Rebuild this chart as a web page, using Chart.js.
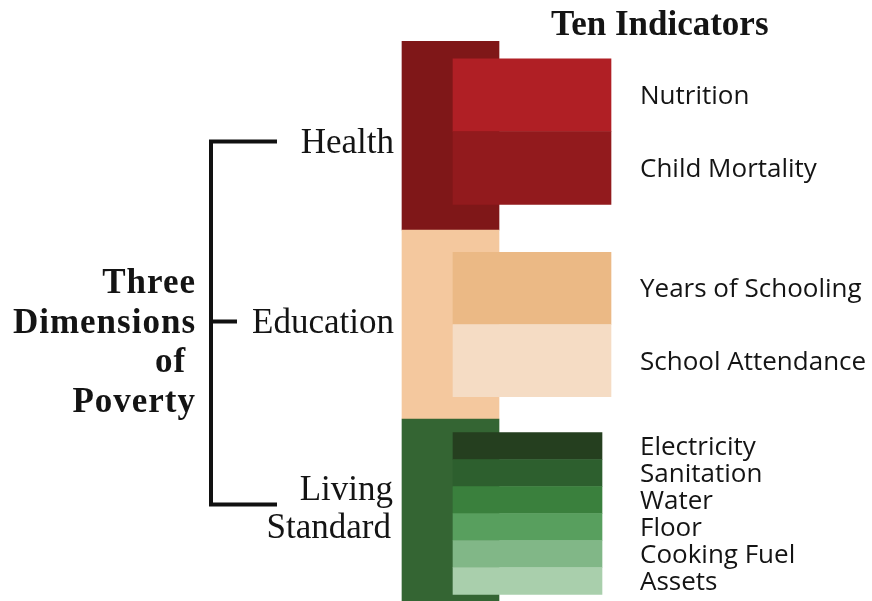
<!DOCTYPE html>
<html>
<head>
<meta charset="utf-8">
<script src="https://cdn.jsdelivr.net/npm/chart.js@4.4.1/dist/chart.umd.min.js"></script>
<style>
  html, body { margin: 0; padding: 0; background: #fff; }
  #wrap { width: 872px; height: 601px; }
</style>
</head>
<body>
<div id="wrap"><canvas id="mpiChart" width="872" height="601"></canvas></div>
<script>
// MPI: three dimensions, ten weighted indicators
const dimensions = ['Health', 'Education', 'Living Standard'];
const dimensionWeights = [1 / 3, 1 / 3, 1 / 3];
const dimensionColors = ['#7f1718', '#f4c89e', '#346533'];

const indicators = ['Nutrition', 'Child Mortality', 'Years of Schooling', 'School Attendance',
  'Electricity', 'Sanitation', 'Water', 'Floor', 'Cooking Fuel', 'Assets'];
const indicatorDimension = [0, 0, 1, 1, 2, 2, 2, 2, 2, 2];
const indicatorWeights = [1 / 6, 1 / 6, 1 / 6, 1 / 6, 1 / 18, 1 / 18, 1 / 18, 1 / 18, 1 / 18, 1 / 18];
const indicatorColors = ['#b01f25', '#921a1d', '#ebb985', '#f5dcc4',
  '#253f1f', '#2d5f2e', '#3a803d', '#589f5e', '#81b787', '#a9cfac'];

const sideTitle = ['Three', 'Dimensions', 'of ', 'Poverty'];
const topTitle = 'Ten Indicators';

// share of a dimension band that its indicator stack fills, and a small nudge
const bandFill = [0.77, 0.765, 0.857];
const bandShift = [-0.007, 0, 0];
const dimLabelShift = [6, -3, -6];

// cumulative ranges
const dimStart = [];
let acc = 0;
dimensionWeights.forEach(w => { dimStart.push(acc); acc += w; });

const indRange = [];
const used = [0, 0, 0];
indicators.forEach((name, i) => {
  const d = indicatorDimension[i];
  const f = bandFill[d];
  const s = dimStart[d] + dimensionWeights[d] * (1 - f) / 2 + bandShift[d] + used[d] * f;
  used[d] += indicatorWeights[i];
  indRange.push([s, s + indicatorWeights[i] * f]);
});

const heIdx = indicators.map((n, i) => i).filter(i => indicatorDimension[i] < 2);
const lsIdx = indicators.map((n, i) => i).filter(i => indicatorDimension[i] === 2);

const labelPlugin = {
  id: 'mpiLabels',
  afterDatasetsDraw(chart) {
    const ctx = chart.ctx;
    const y = chart.scales.y;
    ctx.save();
    ctx.fillStyle = '#141414';
    ctx.textBaseline = 'alphabetic';

    ctx.font = 'bold 35px "Liberation Serif"';
    ctx.textAlign = 'left';
    ctx.fillText(topTitle, 551, 35);

    ctx.font = '26px "Open Sans"';
    indicators.forEach((name, i) => {
      const mid = y.getPixelForValue((indRange[i][0] + indRange[i][1]) / 2);
      ctx.fillText(name, 640, mid + 9);
    });

    // dimension names, right aligned against the bars
    ctx.font = '35px "Liberation Serif"';
    ctx.textAlign = 'right';
    const tickY = [];
    dimensions.forEach((name, d) => {
      const mid = y.getPixelForValue(dimStart[d] + dimensionWeights[d] / 2) + dimLabelShift[d];
      const words = name.split(' ');
      if (words.length > 1) {
        ctx.fillText(words[0], 393, mid - 19 + 11);
        ctx.fillText(words[1], 391, mid + 19 + 11);
        tickY.push(mid - 3);
      } else {
        ctx.fillText(name, 394, mid + 11);
        tickY.push(mid);
      }
    });

    // bracket
    ctx.strokeStyle = '#111';
    ctx.lineWidth = 4;
    ctx.beginPath();
    ctx.moveTo(277, tickY[0]);
    ctx.lineTo(211, tickY[0]);
    ctx.lineTo(211, tickY[2]);
    ctx.lineTo(277, tickY[2]);
    ctx.moveTo(211, tickY[1]);
    ctx.lineTo(237, tickY[1]);
    ctx.stroke();

    ctx.font = 'bold 35px "Liberation Serif"';
    ctx.letterSpacing = '1px';
    sideTitle.forEach((line, k) => {
      ctx.fillText(line, 196, tickY[1] + 11 + (k - 1) * 39.5);
    });
    ctx.restore();
  }
};

const ctx = document.getElementById('mpiChart').getContext('2d');
new Chart(ctx, {
  type: 'bar',
  data: {
    datasets: [{
      label: 'Dimensions',
      data: dimensions.map((d, i) => ({ x: 450.5, y: [dimStart[i], dimStart[i] + dimensionWeights[i]] })),
      backgroundColor: dimensionColors,
      barThickness: 97,
      grouped: false,
      order: 2
    }, {
      label: 'Health & Education indicators',
      data: heIdx.map(i => ({ x: 532, y: indRange[i] })),
      backgroundColor: heIdx.map(i => indicatorColors[i]),
      barThickness: 158,
      grouped: false,
      order: 1
    }, {
      label: 'Living Standard indicators',
      data: lsIdx.map(i => ({ x: 527.5, y: indRange[i] })),
      backgroundColor: lsIdx.map(i => indicatorColors[i]),
      barThickness: 149,
      grouped: false,
      order: 1
    }]
  },
  options: {
    responsive: false,
    animation: false,
    events: [],
    layout: { padding: { top: 41, left: 0, right: 0, bottom: 0 } },
    plugins: {
      legend: { display: false },
      tooltip: { enabled: false }
    },
    scales: {
      x: { type: 'linear', display: false, offset: false, min: 0, max: 872 },
      y: { type: 'linear', display: false, reverse: true, min: 0, max: 560 / 567 }
    }
  },
  plugins: [labelPlugin]
});
</script>
</body>
</html>
